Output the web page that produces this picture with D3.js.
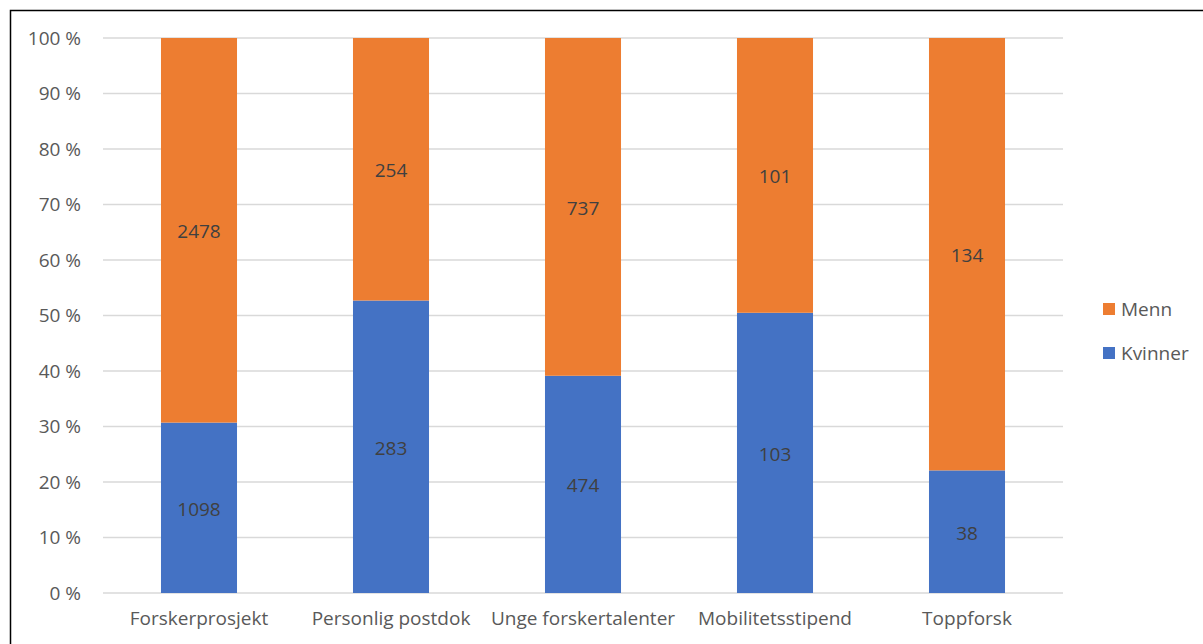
<!DOCTYPE html>
<html>
<head>
<meta charset="utf-8">
<script src="https://cdn.jsdelivr.net/npm/d3@7"></script>
<style>
  html, body { margin: 0; padding: 0; background: #fff; }
  svg { display: block; }
  text { font-family: "Open Sans", "Liberation Sans", sans-serif; }
</style>
</head>
<body>
<svg id="chart" width="1203" height="644"></svg>
<script>
// Søknader fordelt på kjønn per virkemiddel
const categories = ["Forskerprosjekt", "Personlig postdok", "Unge forskertalenter", "Mobilitetsstipend", "Toppforsk"];
const kvinner = [1098, 283, 474, 103, 38];
const menn = [2478, 254, 737, 101, 134];
const seriesNames = ["Kvinner", "Menn"];
const seriesColors = ["#4472C4", "#ED7D31"];
const yTicks = [0, 0.1, 0.2, 0.3, 0.4, 0.5, 0.6, 0.7, 0.8, 0.9, 1.0];

const svg = d3.select("#chart");
const fontSize = "19px";

// outer chart frame
svg.append("rect")
  .attr("x", 10.5).attr("y", 10.5)
  .attr("width", 1300).attr("height", 800)
  .attr("fill", "none").attr("stroke", "#000").attr("stroke-width", 1.5);

const plot = { left: 103, right: 1063, top: 38, bottom: 593 };

const x = d3.scaleBand()
  .domain(categories)
  .range([plot.left, plot.right])
  .paddingInner(0.604)
  .paddingOuter(0.302);

const y = d3.scaleLinear().domain([0, 1]).range([plot.bottom, plot.top]);

// gridlines
svg.append("g")
  .selectAll("line")
  .data(yTicks)
  .join("line")
  .attr("x1", plot.left).attr("x2", plot.right)
  .attr("y1", d => y(d)).attr("y2", d => y(d))
  .attr("stroke", "#D9D9D9").attr("stroke-width", 1.5);

// y axis labels
const yAxis = d3.axisLeft(y)
  .tickValues(yTicks)
  .tickSize(0)
  .tickPadding(0)
  .tickFormat(d => Math.round(d * 100) + " %");
svg.append("g")
  .attr("transform", `translate(81,0)`)
  .call(yAxis)
  .call(g => g.select(".domain").remove())
  .call(g => g.selectAll("text")
    .attr("fill", "#595959")
    .style("font-size", fontSize)
    .style("font-family", "'Open Sans', sans-serif"));

// x axis labels
const xAxis = d3.axisBottom(x).tickSize(0).tickPadding(0);
svg.append("g")
  .attr("transform", `translate(0,${plot.bottom + 18})`)
  .call(xAxis)
  .call(g => g.select(".domain").remove())
  .call(g => g.selectAll("text")
    .attr("fill", "#595959")
    .style("font-size", fontSize)
    .style("font-family", "'Open Sans', sans-serif"));

// stacked shares
const rows = categories.map((c, i) => {
  const total = kvinner[i] + menn[i];
  return { cat: c, Kvinner: kvinner[i] / total, Menn: menn[i] / total, raw: { Kvinner: kvinner[i], Menn: menn[i] } };
});
const stack = d3.stack().keys(seriesNames);
const layers = stack(rows);

const g = svg.append("g");
layers.forEach((layer, li) => {
  g.append("g")
    .selectAll("rect")
    .data(layer)
    .join("rect")
    .attr("x", d => x(d.data.cat))
    .attr("width", x.bandwidth())
    .attr("y", d => y(d[1]))
    .attr("height", d => y(d[0]) - y(d[1]))
    .attr("fill", seriesColors[li]);

  g.append("g")
    .selectAll("text")
    .data(layer)
    .join("text")
    .attr("x", d => x(d.data.cat) + x.bandwidth() / 2)
    .attr("y", d => (y(d[0]) + y(d[1])) / 2 + 1)
    .attr("text-anchor", "middle")
    .attr("dominant-baseline", "central")
    .attr("fill", "#404040")
    .style("font-size", fontSize)
    .text(d => d.data.raw[layer.key]);
});

// legend (Menn on top)
const legendItems = [
  { name: "Menn", color: seriesColors[1], y: 309 },
  { name: "Kvinner", color: seriesColors[0], y: 353 }
];
const lg = svg.append("g");
legendItems.forEach(it => {
  lg.append("rect")
    .attr("x", 1103).attr("y", it.y - 6)
    .attr("width", 12).attr("height", 12)
    .attr("fill", it.color);
  lg.append("text")
    .attr("x", 1121).attr("y", it.y)
    .attr("dominant-baseline", "central")
    .attr("fill", "#595959")
    .style("font-size", fontSize)
    .text(it.name);
});
</script>
</body>
</html>
